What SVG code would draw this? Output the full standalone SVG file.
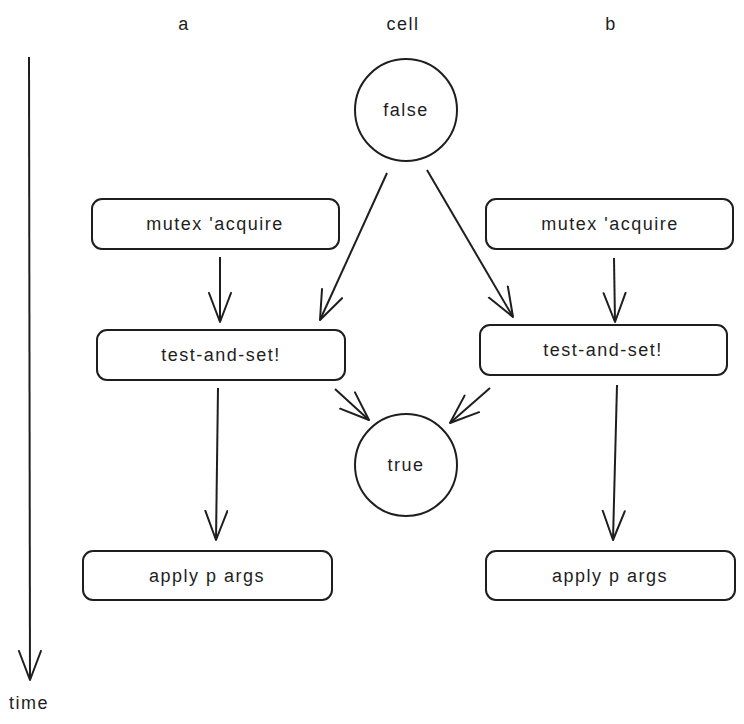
<svg xmlns="http://www.w3.org/2000/svg" width="744" height="724" viewBox="0 0 744 724">
<style>
.box{fill:none;stroke:#1e1e1e;stroke-width:2}
.lbl{font-family:"Liberation Sans",Arial,sans-serif;font-size:18px;fill:#1e1e1e;text-anchor:middle;dominant-baseline:central;letter-spacing:1.5px}
.edge{fill:none;stroke:#1e1e1e;stroke-width:2;marker-end:url(#arr)}
</style>
<defs>
<marker id="arr" markerUnits="userSpaceOnUse" markerWidth="40" markerHeight="30" refX="30" refY="12" orient="auto">
<path d="M1,1 L30,12 L1,23" fill="none" stroke="#1e1e1e" stroke-width="2" stroke-linecap="round" stroke-linejoin="round"/>
</marker>
</defs>
<rect width="744" height="724" fill="#ffffff"/>
<g id="header-a"><text class="lbl" x="184" y="24">a</text></g>
<g id="header-cell"><text class="lbl" x="403" y="24">cell</text></g>
<g id="header-b"><text class="lbl" x="611" y="24">b</text></g>
<g id="time-label"><text class="lbl" x="29" y="703">time</text></g>
<g id="false"><circle class="box" cx="406" cy="110" r="51"/><text class="lbl" x="406" y="110">false</text></g>
<g id="true"><circle class="box" cx="406" cy="465" r="51"/><text class="lbl" x="406" y="465">true</text></g>
<g id="mutex-a"><rect class="box" x="92" y="199" width="247" height="50" rx="10"/><text class="lbl" x="215" y="224">mutex 'acquire</text></g>
<g id="mutex-b"><rect class="box" x="486" y="199" width="247" height="50" rx="10"/><text class="lbl" x="610" y="224">mutex 'acquire</text></g>
<g id="test-a"><rect class="box" x="97" y="330" width="248" height="50" rx="10"/><text class="lbl" x="221" y="355">test-and-set!</text></g>
<g id="test-b"><rect class="box" x="480" y="325" width="247" height="50" rx="10"/><text class="lbl" x="603" y="350">test-and-set!</text></g>
<g id="apply-a"><rect class="box" x="83" y="551" width="249" height="49" rx="10"/><text class="lbl" x="207" y="576">apply p args</text></g>
<g id="apply-b"><rect class="box" x="486" y="551" width="249" height="49" rx="10"/><text class="lbl" x="610" y="576">apply p args</text></g>
<g id="connectors">
<path class="edge" d="M29,57 L30,680"/>
<path class="edge" d="M387,173 L320,320"/>
<path class="edge" d="M427,170 L513,317"/>
<path class="edge" d="M220,257 L220,322"/>
<path class="edge" d="M614,258 L615,322"/>
<path class="edge" d="M335,389 L369,420"/>
<path class="edge" d="M490,388 L450,423"/>
<path class="edge" d="M218,388 L216,540"/>
<path class="edge" d="M617,385 L613,540"/>
</g>
</svg>
